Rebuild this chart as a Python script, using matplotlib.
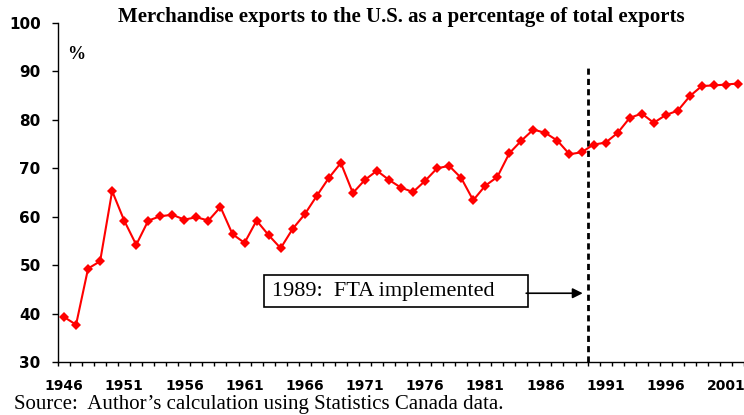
import matplotlib
matplotlib.use("Agg")
import matplotlib.pyplot as plt
from matplotlib.patches import Rectangle
import numpy as np

years = list(range(1946, 2003))
share = [39.3, 37.7, 49.3, 50.8, 65.3, 59.2, 54.2, 59.2, 60.1, 60.4,
         59.4, 59.9, 59.2, 62.0, 56.4, 54.6, 59.2, 56.2, 53.5, 57.5,
         60.5, 64.3, 68.0, 71.1, 64.9, 67.6, 69.5, 67.6, 66.0, 65.1,
         67.4, 70.0, 70.5, 68.0, 63.4, 66.4, 68.2, 73.1, 75.7, 78.0,
         77.3, 75.7, 72.9, 73.3, 74.9, 75.3, 77.3, 80.4, 81.3, 79.4,
         81.0, 81.9, 84.9, 87.0, 87.1, 87.3, 87.5]
x_labels = [str(y) for y in range(1946, 2003, 5)]
y_ticks = [30, 40, 50, 60, 70, 80, 90, 100]
fta_year = 1989

title = "Merchandise exports to the U.S. as a percentage of total exports"
source = "Source:  Author\u2019s calculation using Statistics Canada data."
note = "1989:  FTA implemented"

fig = plt.figure(figsize=(7.44, 4.15), dpi=100)
ax = fig.add_axes([58/744, 53/415, 686/744, 339/415])

ax.plot(years, share, color="#ff0000", lw=1.5, marker="D", markersize=5.5,
        markeredgewidth=0, zorder=3)

ax.set_xlim(years[0] - 0.5, years[-1] + 0.5)
ax.set_ylim(30, 100)
ax.set_yticks(y_ticks)
ax.set_yticklabels([str(v) for v in y_ticks], fontfamily="DejaVu Sans",
                   fontweight="bold", fontsize=11)
ax.set_xticks([int(s) for s in x_labels])
ax.set_xticklabels(x_labels, fontfamily="DejaVu Sans", fontweight="bold",
                   fontsize=10)
ax.set_xticks(np.arange(years[0] - 0.5, years[-1] + 1, 1), minor=True)
ax.tick_params(axis="x", which="major", length=0, pad=12)
ax.tick_params(axis="x", which="minor", length=3, width=1, direction="out")
ax.tick_params(axis="y", which="major", length=4.5, width=1, pad=8)

for s in ["top", "right"]:
    ax.spines[s].set_visible(False)
for s in ["left", "bottom"]:
    ax.spines[s].set_linewidth(1)

# FTA line
ax.plot([fta_year + 0.5, fta_year + 0.5], [30, 91], color="black", lw=2,
        linestyle=(0, (2.2, 1.5)), zorder=2)

# annotation box
ax.add_patch(Rectangle((1962.62, 41.32), 21.93, 6.61, fill=False,
                       edgecolor="black", lw=1.2, zorder=4))
ax.text(1963.3, 44.6, note, fontfamily="Liberation Serif", fontsize=16,
        ha="left", va="center", zorder=5)
ax.annotate("", xy=(fta_year + 0.1, 44.2), xytext=(1984.4, 44.2),
            arrowprops=dict(arrowstyle="-|>", color="black", lw=1.2,
                            mutation_scale=15, shrinkA=0, shrinkB=0))

fig.text(67/744, 1 - 59/415, "%", fontfamily="Liberation Serif",
         fontweight="bold", fontsize=13, ha="left", va="baseline")

fig.text(401/744, 1 - 22/415, title, fontfamily="Liberation Serif",
         fontweight="bold", fontsize=15, ha="center", va="baseline")
fig.text(14/744, 1 - 409/415, source, fontfamily="Liberation Serif",
         fontsize=15, ha="left", va="baseline")

fig.savefig("out.png", dpi=100)
